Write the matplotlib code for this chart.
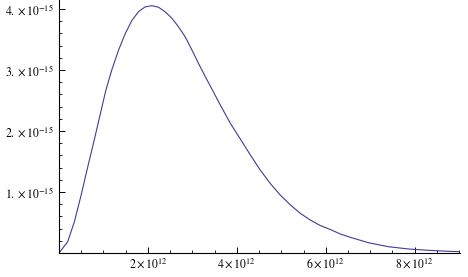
import matplotlib.pyplot as plt
from matplotlib.ticker import MultipleLocator

plt.rcParams['mathtext.fontset'] = 'stix'
plt.rcParams['font.family'] = 'Liberation Serif'

# values: x in units of 1e12, y in units of 1e-15
x_vals = [0.0, 0.196, 0.345, 0.495, 0.646, 0.795, 1.051, 1.187, 1.336, 1.486,
          1.637, 1.786, 1.937, 2.088, 2.237, 2.387, 2.538, 2.687, 2.838, 2.989,
          3.137, 3.288, 3.401, 3.626, 3.851,
          4.077, 4.302, 4.527, 4.752, 4.977, 5.203, 5.428, 5.653, 5.878, 6.104,
          6.329, 6.554, 6.959, 7.41, 7.86, 8.311, 8.761, 9.0]
y_vals = [0.0, 0.185, 0.51, 0.94, 1.41, 1.86, 2.66, 3.0, 3.32, 3.59,
          3.81, 3.955, 4.035, 4.055, 4.03, 3.955, 3.85, 3.71, 3.545, 3.33,
          3.11, 2.895, 2.74, 2.43, 2.13,
          1.87, 1.61, 1.36, 1.14, 0.95, 0.79, 0.65, 0.54, 0.45, 0.385,
          0.311, 0.257, 0.169, 0.103, 0.066, 0.044, 0.028, 0.022]

x_ticks = [2, 4, 6, 8]
x_labels = [r'$2\times10^{12}$', r'$4\times10^{12}$', r'$6\times10^{12}$', r'$8\times10^{12}$']
y_ticks = [1, 2, 3, 4]
y_labels = [r'$1.\times10^{-15}$', r'$2.\times10^{-15}$', r'$3.\times10^{-15}$', r'$4.\times10^{-15}$']

fig = plt.figure(figsize=(4.68, 2.77), dpi=100)
ax = fig.add_axes([59/468, 24/277, 401/468, 253/277])

ax.plot(x_vals, y_vals, color='#3d3d99', lw=0.8)

ax.set_xlim(0, 9.02)
ax.set_ylim(0, 4.148)

ax.spines['top'].set_visible(False)
ax.spines['right'].set_visible(False)
for s in ['left', 'bottom']:
    ax.spines[s].set_linewidth(0.8)

ax.set_xticks(x_ticks)
ax.set_xticklabels(x_labels, fontsize=8.5)
ax.set_yticks(y_ticks)
ax.set_yticklabels(y_labels, fontsize=8.5)
ax.xaxis.set_minor_locator(MultipleLocator(0.5))
ax.yaxis.set_minor_locator(MultipleLocator(0.2))

ax.tick_params(which='major', direction='in', length=4, width=0.7, pad=3)
ax.tick_params(which='minor', direction='in', length=2.2, width=0.6)
ax.tick_params(axis='y', which='major', pad=4)

fig.savefig('out.png', dpi=100)
